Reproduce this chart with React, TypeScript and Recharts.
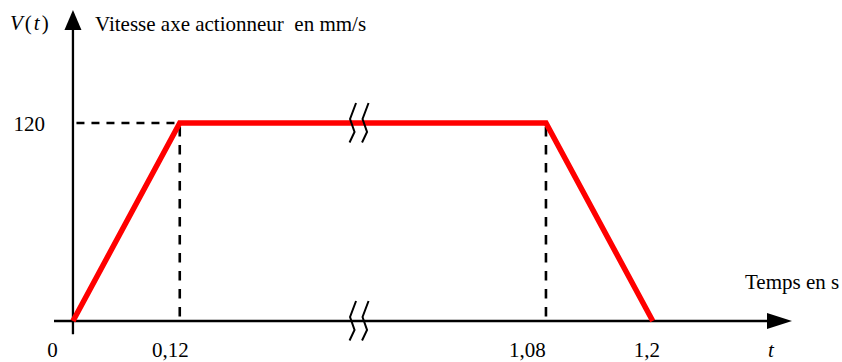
import React from 'react';
import { LineChart, Line, XAxis, YAxis, ReferenceLine, ReferenceDot } from 'recharts';

// profil de vitesse trapezoidal
const times = [0, 0.12, 1.08, 1.2];
const speeds = [0, 120, 120, 0];
const tickTimes = [0, 0.12, 1.08, 1.2];
const tickLabels = ['0', '0,12', '1,08', '1,2'];
const speedTicks = [120];

// axe coupe entre 0,12 et 1,08 : la partie du milieu est comprimee
const BREAK_FROM = 0.12;
const BREAK_TO = 1.08;
const SQUEEZE = 0.4286;
const BREAK_MARK_T = 0.59;

const warp = (t: number) => {
  if (t <= BREAK_FROM) return t;
  if (t <= BREAK_TO) return BREAK_FROM + (t - BREAK_FROM) * SQUEEZE;
  return BREAK_FROM + (BREAK_TO - BREAK_FROM) * SQUEEZE + (t - BREAK_TO);
};

const data = times.map((t, i) => ({ x: warp(t), v: speeds[i] }));

const X_DOMAIN: [number, number] = [-0.0213, 0.8079];
const Y_DOMAIN: [number, number] = [-10, 190];
const LABEL_DX = [-20.5, -9.5, -18.5, -6];
const FONT = '"Liberation Serif", "Times New Roman", serif';

const arrowAxis = (head: number, half: number) => (props: any) => {
  const { x1, y1, x2, y2 } = props;
  const len = Math.hypot(x2 - x1, y2 - y1) || 1;
  const ux = (x2 - x1) / len;
  const uy = (y2 - y1) / len;
  const bx = x2 - ux * head;
  const by = y2 - uy * head;
  const pts = `${x2},${y2} ${bx - uy * half},${by + ux * half} ${bx + uy * half},${by - ux * half}`;
  return (
    <g>
      <line x1={x1} y1={y1} x2={bx + ux * 2} y2={by + uy * 2} stroke="#000" strokeWidth={2.3} />
      <polygon points={pts} fill="#000" />
    </g>
  );
};

const dashLine = (pattern: string, offset: number) => (props: any) => {
  const { x1, y1, x2, y2 } = props;
  return (
    <line
      x1={x1}
      y1={y1}
      x2={x2}
      y2={y2}
      stroke="#000"
      strokeWidth={2.6}
      strokeDasharray={pattern}
      strokeDashoffset={offset}
    />
  );
};
const hDash = dashLine('8 7', -3.5);
const vDash = dashLine('9.5 8.5', -4);

const zig = [
  [3.5, -20],
  [-2.5, -4],
  [2, 9],
  [-3, 19.5],
];

const BreakMark = (props: any) => {
  const { cx, cy } = props;
  const mark = (off: number) => zig.map(([dx, dy]) => `${cx + off + dx},${cy + dy}`).join(' ');
  return (
    <g>
      <polyline points={mark(-6.5)} fill="none" stroke="#000" strokeWidth={2} />
      <polyline points={mark(6)} fill="none" stroke="#000" strokeWidth={2} />
    </g>
  );
};

const XTick = (props: any) => {
  const { x, index } = props;
  return (
    <text x={x + LABEL_DX[index]} y={357} textAnchor="middle" fontFamily={FONT} fontSize={21} fill="#000">
      {tickLabels[index]}
    </text>
  );
};

const YTick = (props: any) => {
  const { y, payload } = props;
  return (
    <text x={45} y={y + 8} textAnchor="end" fontFamily={FONT} fontSize={21} fill="#000">
      {payload.value}
    </text>
  );
};

export default function App() {
  return (
    <div style={{ position: 'absolute', left: 0, top: 0 }}>
      <LineChart width={842} height={362} data={data} margin={{ top: 7.5, right: 50, bottom: 0, left: 0 }}>
        <XAxis
          type="number"
          dataKey="x"
          domain={X_DOMAIN}
          allowDataOverflow
          ticks={tickTimes.map(warp)}
          tick={<XTick />}
          axisLine={false}
          tickLine={false}
          height={24.5}
          interval={0}
        />
        <YAxis
          type="number"
          domain={Y_DOMAIN}
          allowDataOverflow
          ticks={speedTicks}
          tick={<YTick />}
          axisLine={false}
          tickLine={false}
          width={54}
        />
        <ReferenceLine segment={[{ x: warp(0), y: 120 }, { x: warp(0.12), y: 120 }]} shape={hDash} ifOverflow="visible" />
        <ReferenceLine segment={[{ x: warp(0.12), y: 120 }, { x: warp(0.12), y: 0 }]} shape={vDash} ifOverflow="visible" />
        <ReferenceLine segment={[{ x: warp(1.08), y: 120 }, { x: warp(1.08), y: 0 }]} shape={vDash} ifOverflow="visible" />
        <ReferenceLine
          segment={[{ x: X_DOMAIN[0], y: 0 }, { x: X_DOMAIN[1], y: 0 }]}
          shape={arrowAxis(25, 8)}
          ifOverflow="visible"
        />
        <ReferenceLine
          segment={[{ x: 0, y: -8 }, { x: 0, y: 188.5 }]}
          shape={arrowAxis(20, 8.5)}
          ifOverflow="visible"
        />
        <Line
          type="linear"
          dataKey="v"
          stroke="#ff0000"
          strokeWidth={5.5}
          dot={false}
          activeDot={false}
          isAnimationActive={false}
        />
        <ReferenceDot x={warp(BREAK_MARK_T)} y={120} r={0} shape={<BreakMark />} ifOverflow="visible" />
        <ReferenceDot x={warp(BREAK_MARK_T)} y={0} r={0} shape={<BreakMark />} ifOverflow="visible" />
        <text x={10} y={30} fontFamily={FONT} fontSize={21} fill="#000" letterSpacing={2}>
          <tspan fontStyle="italic">V</tspan>
          <tspan>(</tspan>
          <tspan fontStyle="italic">t</tspan>
          <tspan>)</tspan>
        </text>
        <text x={95} y={31} fontFamily={FONT} fontSize={21} fill="#000" style={{ whiteSpace: 'pre' }}>
          Vitesse axe actionneur  en mm/s
        </text>
        <text x={745} y={289} fontFamily={FONT} fontSize={21} fill="#000">
          Temps en s
        </text>
        <text x={768} y={357} fontFamily={FONT} fontSize={21} fontStyle="italic" fill="#000">
          t
        </text>
      </LineChart>
    </div>
  );
}
